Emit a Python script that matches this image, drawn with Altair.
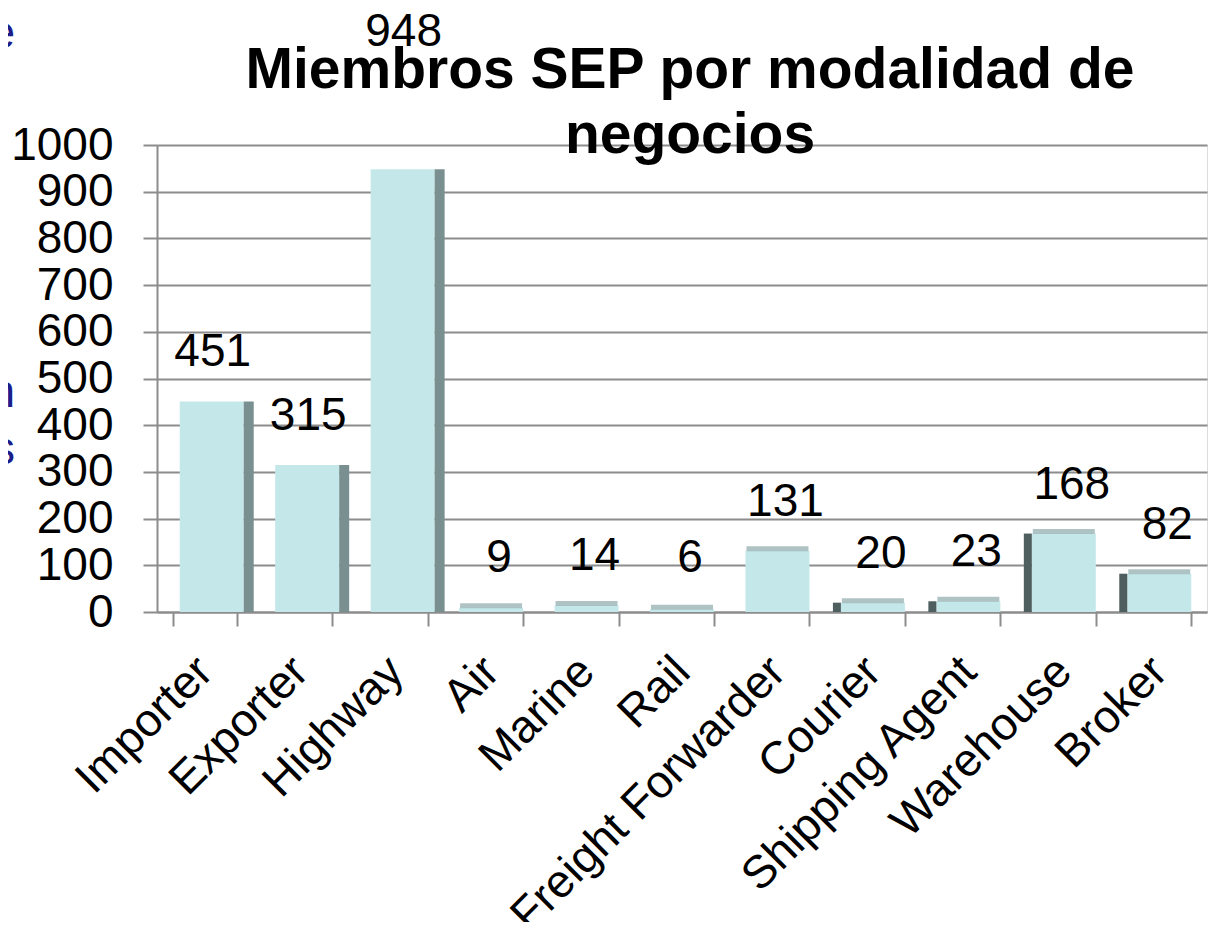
import altair as alt
import pandas as pd

categories = ["Importer", "Exporter", "Highway", "Air", "Marine", "Rail",
              "Freight Forwarder", "Courier", "Shipping Agent", "Warehouse", "Broker"]
values = [451, 315, 948, 9, 14, 6, 131, 20, 23, 168, 82]
y_ticks = [0, 100, 200, 300, 400, 500, 600, 700, 800, 900, 1000]
title_lines = ["Miembros SEP por modalidad de", "negocios"]
side_right = ["Importer", "Exporter", "Highway"]
side_left = ["Courier", "Shipping Agent", "Warehouse", "Broker"]

df = pd.DataFrame({"cat": categories, "value": values})

FONT = "Liberation Sans"

x_enc = alt.X("cat:N", sort=categories, title=None,
              scale=alt.Scale(paddingInner=0.33, paddingOuter=0.165),
              axis=alt.Axis(labelAngle=-45, labelFontSize=46, labelFont=FONT,
                            labelColor="#000000", labelAlign="right", labelBaseline="middle",
                            labelPadding=38, tickBand="extent", tickSize=14, tickWidth=2,
                            tickColor="#8C8C8C", domainColor="#8C8C8C", domainWidth=2,
                            labelLimit=700))
y_scale = alt.Scale(domain=[0, 1000], nice=False)

bars_r = alt.Chart(df).transform_filter(
    alt.FieldOneOfPredicate(field="cat", oneOf=side_right)
).mark_bar(color="#C4E8EA", width=64, xOffset=7).encode(
    x=alt.X("cat:N", sort=categories), y=alt.Y("value:Q", scale=y_scale))

bars = alt.Chart(df).transform_filter(
    ~alt.FieldOneOfPredicate(field="cat", oneOf=side_right)
).mark_bar(color="#C4E8EA", width=64).encode(
    x=x_enc,
    y=alt.Y("value:Q", scale=y_scale, title=None,
            axis=alt.Axis(values=y_ticks, format="d", labelFontSize=46, labelFont=FONT,
                          labelColor="#000000",
                          tickSize=14, tickWidth=2, tickColor="#8C8C8C", labelPadding=30,
                          domainColor="#8C8C8C", domainWidth=2,
                          grid=True, gridColor="#8C8C8C", gridWidth=2)),
)

tops = alt.Chart(df).transform_filter(
    ~alt.FieldOneOfPredicate(field="cat", oneOf=side_right)
).mark_tick(color="#8FAAAB", size=62, thickness=5, yOffset=-2).encode(
    x=alt.X("cat:N", sort=categories), y=alt.Y("value:Q", scale=y_scale))

sides_r = alt.Chart(df).transform_filter(
    alt.FieldOneOfPredicate(field="cat", oneOf=side_right)
).mark_bar(color="#7A9090", width=10, xOffset=44).encode(
    x=alt.X("cat:N", sort=categories), y=alt.Y("value:Q", scale=y_scale))

sides_l = alt.Chart(df).transform_filter(
    alt.FieldOneOfPredicate(field="cat", oneOf=side_left)
).mark_bar(color="#4F5F60", width=8, xOffset=-36).encode(
    x=alt.X("cat:N", sort=categories), y=alt.Y("value:Q", scale=y_scale))

labels = alt.Chart(df).transform_calculate(
    labelY="datum.value > 900 ? datum.value + 294 : max(datum.value, 10) + 105"
).mark_text(fontSize=46, font=FONT, color="#000000", baseline="middle", xOffset=8).encode(
    x=alt.X("cat:N", sort=categories),
    y=alt.Y("labelY:Q", scale=y_scale),
    text=alt.Text("value:Q"),
)

title = alt.Chart(pd.DataFrame({"t": [title_lines]})).mark_text(
    fontSize=57, font=FONT, fontWeight="bold", color="#000000",
    align="center", baseline="alphabetic", lineHeight=65,
).encode(x=alt.value(533), y=alt.value(-57), text="t:N")

frag = pd.DataFrame({"t": ["e", "n", "s"], "py": [-97, 262, 319]})
frags = alt.Chart(frag).mark_text(
    fontSize=46, font=FONT, color="#1C1C8A", align="right", baseline="alphabetic"
).encode(x=alt.value(-142), y=alt.Y("py:Q", scale=None), text="t:N")

chart = alt.layer(bars, bars_r, tops, sides_r, sides_l, labels, title, frags).properties(
    width=1050, height=467,
    autosize=alt.AutoSizeParams(type="none"),
    padding={"left": 149, "top": 137, "right": 5, "bottom": 310},
).configure_view(stroke=None).configure(background="#FFFFFF")

chart.save("out.html", embed_options={"renderer": "svg", "actions": False})
